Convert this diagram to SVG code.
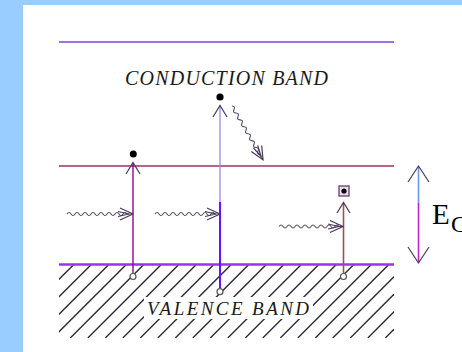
<svg xmlns="http://www.w3.org/2000/svg" width="462" height="352" viewBox="0 0 462 352">
<style>
.lbl{font-family:"Liberation Serif","Times New Roman",serif;font-style:italic;fill:#1a1a1a}
.eg{font-family:"Liberation Serif","Times New Roman",serif;fill:#000}
.wave{fill:none;stroke:#5a4a6a;stroke-width:1.1}
.head{fill:none;stroke:#4a3a5a;stroke-width:1.2}
.hatch line{stroke:#2a2a3a;stroke-width:1.4}
.hole{fill:#fff;stroke:#555;stroke-width:1.2}
.dot{fill:#000}
</style>
<defs>
<clipPath id="hc"><rect x="59" y="265" width="335" height="73"/></clipPath>
<path id="whead" d="M-13,-6 L0,0 L-13,6 M-15,-2.5 L-4,0 L-15,2.5"/>
</defs>
<rect x="0" y="0" width="462" height="352" fill="#99ccff"/>
<rect x="23" y="5" width="439" height="347" fill="#fff"/>

<g id="conduction-band">
<line x1="59" y1="42" x2="394" y2="42" stroke="#8040e0" stroke-width="1.6"/>
<line x1="59" y1="166" x2="394" y2="166" stroke="#993366" stroke-width="1.3"/>
<text class="lbl" x="125" y="85" font-size="20" textLength="203" lengthAdjust="spacing">CONDUCTION  BAND</text>
</g>

<g id="valence-band">
<g class="hatch" clip-path="url(#hc)">
<line x1="73.3" y1="265" x2="0.3" y2="338"/>
<line x1="90.8" y1="265" x2="17.8" y2="338"/>
<line x1="108.3" y1="265" x2="35.3" y2="338"/>
<line x1="125.8" y1="265" x2="52.8" y2="338"/>
<line x1="143.3" y1="265" x2="70.3" y2="338"/>
<line x1="160.8" y1="265" x2="87.8" y2="338"/>
<line x1="178.3" y1="265" x2="105.3" y2="338"/>
<line x1="195.8" y1="265" x2="122.8" y2="338"/>
<line x1="213.3" y1="265" x2="140.3" y2="338"/>
<line x1="230.8" y1="265" x2="157.8" y2="338"/>
<line x1="248.3" y1="265" x2="175.3" y2="338"/>
<line x1="265.8" y1="265" x2="192.8" y2="338"/>
<line x1="283.3" y1="265" x2="210.3" y2="338"/>
<line x1="300.8" y1="265" x2="227.8" y2="338"/>
<line x1="318.3" y1="265" x2="245.3" y2="338"/>
<line x1="335.8" y1="265" x2="262.8" y2="338"/>
<line x1="353.3" y1="265" x2="280.3" y2="338"/>
<line x1="370.8" y1="265" x2="297.8" y2="338"/>
<line x1="388.3" y1="265" x2="315.3" y2="338"/>
<line x1="405.8" y1="265" x2="332.8" y2="338"/>
<line x1="423.3" y1="265" x2="350.3" y2="338"/>
<line x1="440.8" y1="265" x2="367.8" y2="338"/>
<line x1="458.3" y1="265" x2="385.3" y2="338"/>
</g>
<rect x="144" y="297" width="169" height="22" fill="#fff"/>
<line x1="59" y1="264.5" x2="394" y2="264.5" stroke="#9933ee" stroke-width="2.5"/>
<text class="lbl" x="147" y="315" font-size="19" textLength="162" lengthAdjust="spacing">VALENCE  BAND</text>
</g>

<g id="connectors">
<!-- transition 1 -->
<line x1="133" y1="273" x2="133" y2="163" stroke="#990099" stroke-width="1.4"/>
<path class="head" d="M126,174 L133,162.5 L140,174"/>
<path class="wave" d="M67,214 q2,-3 4,0 t4,0 t4,0 t4,0 t4,0 t4,0 t4,0 t4,0 t4,0 t4,0 t4,0 t4,0 t4,0 t4,0 t4,0 L133,214"/>
<use href="#whead" class="head" transform="translate(133,214)"/>
<!-- transition 2 -->
<line x1="220" y1="203" x2="220" y2="106" stroke="#9a8ae8" stroke-width="1.3"/>
<line x1="220" y1="202" x2="220" y2="288" stroke="#6611ff" stroke-width="2"/>
<path class="head" d="M213,117 L220,105.5 L227,117"/>
<path class="wave" d="M155,214 q2,-3 4,0 t4,0 t4,0 t4,0 t4,0 t4,0 t4,0 t4,0 t4,0 t4,0 t4,0 t4,0 t4,0 t4,0 t4,0 L220,214"/>
<use href="#whead" class="head" transform="translate(220,214)"/>
<!-- relaxation -->
<g transform="translate(232,106) rotate(60)">
<path class="wave" d="M0,0 q2,-3 4,0 t4,0 t4,0 t4,0 t4,0 t4,0 t4,0 t4,0 t4,0 t4,0 t4,0 t4,0 t4,0 t4,0 L62,0"/>
<use href="#whead" class="head" transform="translate(62,0)"/>
</g>
<!-- transition 3 -->
<line x1="343.5" y1="273" x2="343.5" y2="203" stroke="#a05050" stroke-width="1.6"/>
<path class="head" d="M337,213 L343.5,202.5 L350,213"/>
<path class="wave" d="M279,226.5 q2,-3 4,0 t4,0 t4,0 t4,0 t4,0 t4,0 t4,0 t4,0 t4,0 t4,0 t4,0 t4,0 t4,0 t4,0 t4,0 L343,226.5"/>
<use href="#whead" class="head" transform="translate(343,226.5)"/>
<!-- band gap -->
<line x1="418.5" y1="167" x2="418.5" y2="203" stroke="#6699ee" stroke-width="1.6"/>
<line x1="418.5" y1="203" x2="418.5" y2="262" stroke="#cc22cc" stroke-width="1.6"/>
<path class="head" d="M408,182 L418.5,166 L429,182 M408,247 L418.5,263 L429,247"/>
</g>

<g id="electron-1"><circle class="dot" cx="133.3" cy="154" r="3.5"/></g>
<g id="electron-2"><circle class="dot" cx="220" cy="97" r="3.6"/></g>
<g id="electron-3"><rect x="339" y="186" width="10" height="10" fill="#e6e0f0" stroke="#6a3d6a" stroke-width="1.3"/><circle class="dot" cx="344" cy="191" r="2.6"/></g>
<g id="hole-1"><circle class="hole" cx="133" cy="276.5" r="3"/></g>
<g id="hole-2"><circle class="hole" cx="220" cy="291.7" r="3"/></g>
<g id="hole-3"><circle class="hole" cx="343.5" cy="276.5" r="3"/></g>

<g id="eg-label">
<text class="eg" x="432" y="224" font-size="29">E<tspan font-size="24" x="451" y="232">G</tspan></text>
</g>
</svg>
